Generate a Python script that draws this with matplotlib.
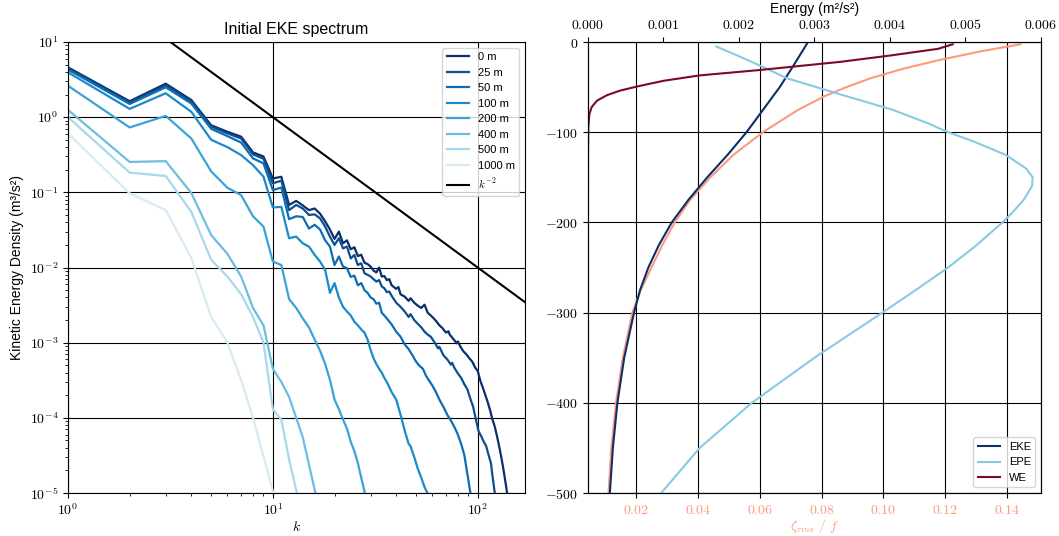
import numpy as np
import matplotlib
matplotlib.use("Agg")
import matplotlib.pyplot as plt
from matplotlib.ticker import FuncFormatter, NullFormatter, FixedLocator

plt.rcParams['font.family'] = ['Liberation Sans', 'DejaVu Sans']
plt.rcParams['mathtext.fontset'] = 'cm'
plt.rcParams['font.size'] = 10

# ---------------- spectra: wavenumber k and KE density per depth ----------------
k_0m = [1, 2, 3, 4, 5, 6, 7, 8, 9, 10, 11, 12, 13, 14, 15, 16, 17, 18, 19, 20,
        21, 22, 23, 24, 25, 26, 27, 28, 29, 30, 31, 32, 33, 34, 35, 36, 37, 38, 40, 41, 42,
        44, 46, 47, 49, 51, 53, 55, 57, 59, 61, 63, 65, 67, 70, 72, 73, 76, 79, 80, 82, 85, 88,
        91, 94, 97, 100, 103, 106, 109, 112, 115, 118, 121, 124, 127, 130, 133, 136, 139, 141]
E_0m = [4.6, 1.63, 2.79, 1.69, 0.78, 0.64, 0.55, 0.34, 0.30, 0.153, 0.161, 0.068, 0.077, 0.067, 0.058, 0.061, 0.052, 0.041, 0.032, 0.024,
        0.030, 0.021, 0.023, 0.0175, 0.0186, 0.0142, 0.0148, 0.0116, 0.0111, 0.0103, 0.0091, 0.0086, 0.0100, 0.0076, 0.0077, 0.0068, 0.0070, 0.0058, 0.0052, 0.0055, 0.0044,
        0.0041, 0.0036, 0.0039, 0.0034, 0.0031, 0.0029, 0.0032, 0.0025, 0.0023, 0.0021, 0.0019, 0.0017, 0.00158, 0.00136, 0.00142, 0.00128, 0.00112, 0.00098, 0.00104, 0.00090, 0.00077, 0.00070,
        0.00062, 0.00056, 0.00047, 0.00042, 0.00031, 0.00025, 0.00020, 0.00016, 0.000125, 0.000095, 0.000077, 0.000058, 0.000043, 0.000031, 0.000022, 0.000015, 0.0000102, 0.000008]

k_25m = [1, 2, 3, 4, 5, 6, 7, 8, 9, 10, 11, 12, 13, 14, 15, 16, 17, 18, 19, 20,
         21, 22, 23, 24, 25, 26, 27, 28, 29, 30, 31, 32, 33, 34, 35, 36, 37, 38, 40, 42,
         44, 46, 47, 49, 51, 53, 55, 57, 59, 62, 64, 65, 68, 71, 74, 75, 77, 80, 83, 86, 89, 92,
         95, 98, 101, 104, 107, 110, 113, 116, 118, 121, 123]
E_25m = [4.45, 1.57, 2.65, 1.62, 0.75, 0.61, 0.52, 0.32, 0.28, 0.132, 0.143, 0.058, 0.068, 0.061, 0.050, 0.051, 0.045, 0.035, 0.0257, 0.020,
         0.0245, 0.018, 0.019, 0.0132, 0.0147, 0.0108, 0.0114, 0.0084, 0.0080, 0.0076, 0.0070, 0.0065, 0.0068, 0.0056, 0.0053, 0.0047, 0.0048, 0.0042, 0.0034, 0.0030,
         0.0026, 0.0022, 0.0024, 0.0020, 0.00178, 0.00160, 0.00140, 0.00128, 0.00120, 0.00098, 0.00084, 0.00088, 0.00068, 0.00060, 0.00051, 0.00054, 0.00046, 0.00039, 0.00034, 0.00028, 0.00024, 0.00018,
         0.00014, 0.000095, 0.000066, 0.000057, 0.000048, 0.000042, 0.000032, 0.000025, 0.000017, 0.0000102, 0.000008]

k_50m = [1, 2, 3, 4, 5, 6, 7, 8, 9, 10, 11, 12, 13, 14, 15, 16, 17, 18, 19, 20,
         21, 22, 23, 24, 25, 26, 27, 28, 29, 30, 31, 32, 33, 34, 35, 36, 38, 40, 42, 44,
         46, 48, 50, 52, 54, 56, 58, 60, 62, 65, 68, 71, 74, 77, 80, 83, 86, 89, 92, 94]
E_50m = [4.3, 1.5, 2.5, 1.52, 0.70, 0.56, 0.46, 0.283, 0.243, 0.107, 0.116, 0.044, 0.048, 0.047, 0.033, 0.037, 0.032, 0.023, 0.019, 0.0108,
         0.014, 0.0103, 0.0098, 0.0075, 0.0078, 0.0058, 0.0062, 0.0050, 0.0046, 0.0040, 0.0038, 0.0033, 0.0034, 0.0025, 0.0023, 0.0021, 0.00175, 0.0014, 0.0012, 0.00095,
         0.00082, 0.00068, 0.00056, 0.00049, 0.00045, 0.00036, 0.00031, 0.00027, 0.00023, 0.000175, 0.00014, 0.00011, 0.000092, 0.000075, 0.00006, 0.000045, 0.000032, 0.000018, 0.0000102, 0.000008]

k_100m = [1, 2, 3, 4, 5, 6, 7, 8, 9, 10, 11, 12, 13, 14, 15, 16, 17, 18, 19, 20,
          21, 22, 23, 24, 25, 26, 27, 28, 29, 30, 31, 32, 33, 34, 35, 36, 38, 40, 42, 44,
          46, 47, 49, 51, 53, 55, 57, 58]
E_100m = [3.95, 1.29, 2.08, 1.18, 0.50, 0.40, 0.313, 0.23, 0.162, 0.063, 0.064, 0.0245, 0.0258, 0.021, 0.019, 0.0147, 0.012, 0.0093, 0.0046, 0.0062,
          0.0040, 0.0030, 0.0026, 0.0023, 0.0019, 0.0017, 0.0015, 0.00136, 0.0011, 0.0008, 0.00062, 0.00052, 0.00045, 0.00040, 0.00034, 0.0003, 0.00022, 0.000175, 0.00011, 0.000068,
          0.000045, 0.000042, 0.00003, 0.000021, 0.000016, 0.000012, 0.0000098, 0.000008]

k_200m = [1, 2, 3, 4, 5, 6, 7, 8, 9, 10, 11, 12, 13, 14, 15, 16, 17, 18, 19, 20,
          21, 22, 23, 24, 25, 26, 27, 28, 29]
E_200m = [2.62, 0.73, 1.04, 0.52, 0.19, 0.115, 0.092, 0.048, 0.035, 0.012, 0.0108, 0.0038, 0.0029, 0.0021, 0.0016, 0.0011, 0.00078, 0.00052, 0.00032, 0.000175,
          0.00013, 0.000095, 0.000072, 0.000048, 0.000036, 0.000025, 0.000016, 0.0000105, 0.000007]

k_400m = [1, 2, 3, 4, 5, 6, 7, 8, 9, 10, 11, 12, 13, 14, 15, 16, 17]
E_400m = [1.25, 0.254, 0.26, 0.098, 0.027, 0.0152, 0.0076, 0.0029, 0.0017, 0.00045, 0.00030, 0.00019, 0.0001, 0.000055, 0.000024, 0.000011, 0.000006]

k_500m = [1, 2, 3, 4, 5, 6, 7, 8, 9, 10, 11, 12, 13, 14]
E_500m = [1.0, 0.183, 0.165, 0.055, 0.0127, 0.0076, 0.0044, 0.0022, 0.001, 0.00013, 0.000095, 0.000028, 0.000011, 0.000005]

k_1000m = [1, 2, 3, 4, 5, 6, 7, 8, 9, 10, 11]
E_1000m = [0.61, 0.097, 0.058, 0.0134, 0.0022, 0.001, 0.00032, 0.0001, 0.000031, 0.0000105, 0.000004]

depth_labels = ['0 m', '25 m', '50 m', '100 m', '200 m', '400 m', '500 m', '1000 m']
spectra_k = [k_0m, k_25m, k_50m, k_100m, k_200m, k_400m, k_500m, k_1000m]
spectra_E = [E_0m, E_25m, E_50m, E_100m, E_200m, E_400m, E_500m, E_1000m]
depth_colors = ['#0a2f6b', '#0b4f92', '#0c6db4', '#1b8acb', '#3aa3d6', '#6cbde0', '#a8d8ec', '#d8eaf3']

# reference slope: E = 100 k^-2
slope_k = [1, 170]
slope_amp = 100.0

# ---------------- vertical profiles ----------------
z_eke = [-2, -25, -50, -75, -100, -125, -150, -175, -200, -225, -250, -275, -300, -350, -400, -450, -500]
eke = [0.00290, 0.00273, 0.00254, 0.00232, 0.00210, 0.00185, 0.00158, 0.00133, 0.00111, 0.00094, 0.00080, 0.00069, 0.00061, 0.00048, 0.00039, 0.00033, 0.00029]

z_epe = [-5, -15, -27, -40, -58, -75, -90, -100, -110, -125, -140, -150, -160, -175, -190, -200, -225, -250, -275, -300, -350, -400, -450, -500]
epe = [0.00170, 0.00198, 0.00230, 0.00263, 0.00334, 0.00403, 0.00450, 0.00477, 0.00510, 0.00553, 0.00580, 0.00589, 0.00588, 0.00577, 0.00561, 0.00549, 0.00515, 0.00477, 0.00434, 0.00390, 0.00300, 0.00217, 0.00148, 0.00097]

z_we = [-2.5, -7.5, -15, -22, -31, -37, -43, -49.5, -54, -59, -65, -72, -80, -94, -120, -200, -300, -400, -500]
we = [0.00483, 0.00464, 0.00400, 0.00334, 0.00228, 0.00148, 0.00100, 0.00064, 0.00042, 0.00025, 0.00012, 0.00005, 0.000018, 0.000005, 0.000001, 0.0, 0.0, 0.0, 0.0]

z_zeta = [-2.5, -10, -20, -30, -40, -50, -60, -75, -100, -125, -150, -175, -200, -225, -250, -275, -300, -350, -400, -450, -500]
zeta = [0.1443, 0.132, 0.118, 0.106, 0.096, 0.088, 0.081, 0.0725, 0.0610, 0.0515, 0.0440, 0.0375, 0.0325, 0.0285, 0.0250, 0.0215, 0.0188, 0.0157, 0.0135, 0.0120, 0.0111]

zeta_color = '#fc9a7c'

fig = plt.figure(figsize=(10.59, 5.36), dpi=100)

# ---------------- left: spectra ----------------
ax = fig.add_axes([0.0642, 0.0802, 0.4315, 0.8414])
for kk, ee, lab, col in zip(spectra_k, spectra_E, depth_labels, depth_colors):
    ax.loglog(kk, ee, color=col, lw=1.6, label=lab)
ks = np.array(slope_k, dtype=float)
ax.loglog(ks, slope_amp * ks ** -2.0, color='k', lw=1.5, label=r'$k^{-2}$')
ax.set_xlim(1, 170)
ax.set_ylim(1e-5, 10)
ax.grid(True, which='major', color='k', lw=0.8)
logfmt = FuncFormatter(lambda v, p: r'$10^{%d}$' % int(round(np.log10(v))))
ax.xaxis.set_major_formatter(logfmt)
ax.yaxis.set_major_formatter(logfmt)
ax.xaxis.set_minor_formatter(NullFormatter())
ax.yaxis.set_minor_formatter(NullFormatter())
ax.tick_params(labelsize=10)
ax.set_xlabel(r'$k$', fontsize=10, labelpad=1)
ax.set_ylabel('Kinetic Energy Density (m³/s²)', fontsize=10)
ax.set_title('Initial EKE spectrum', fontsize=11.5)
ax.legend(loc='upper right', fontsize=8)

# ---------------- right: profiles ----------------
axz = fig.add_axes([0.5552, 0.0802, 0.4278, 0.8414])
axz.plot(zeta, z_zeta, color=zeta_color, lw=1.5)
axz.set_ylim(-500, 0)
axz.xaxis.set_major_locator(FixedLocator([0.02, 0.04, 0.06, 0.08, 0.10, 0.12, 0.14]))
axz.xaxis.set_major_formatter(FuncFormatter(lambda v, p: r'$%.2f$' % v))
axz.yaxis.set_major_locator(FixedLocator([-500, -400, -300, -200, -100, 0]))
axz.yaxis.set_major_formatter(FuncFormatter(lambda v, p: r'$%d$' % int(round(v))))
axz.tick_params(axis='x', colors=zeta_color, labelsize=10)
axz.tick_params(axis='x', color='k')
axz.tick_params(axis='y', labelsize=10)
axz.set_xlabel(r'$\zeta_{rms}\ /\ f$', color=zeta_color, fontsize=10, labelpad=0)
axz.grid(True, color='k', lw=0.8)

axe = axz.twiny()
axe.plot(eke, z_eke, color='#0a2f6b', lw=1.5, label='EKE')
axe.plot(epe, z_epe, color='#86cbe2', lw=1.5, label='EPE')
axe.plot(we, z_we, color='#7a0a2a', lw=1.5, label='WE')
axe.set_xlim(0, 0.006)
axe.set_ylim(-500, 0)
axe.xaxis.set_major_locator(FixedLocator([0.0, 0.001, 0.002, 0.003, 0.004, 0.005, 0.006]))
axe.xaxis.set_major_formatter(FuncFormatter(lambda v, p: r'$%.3f$' % v))
axe.tick_params(axis='x', labelsize=10)
axe.set_xlabel('Energy (m²/s²)', fontsize=10)
axe.legend(loc='lower right', fontsize=8)

fig.savefig('out.png', dpi=100)
